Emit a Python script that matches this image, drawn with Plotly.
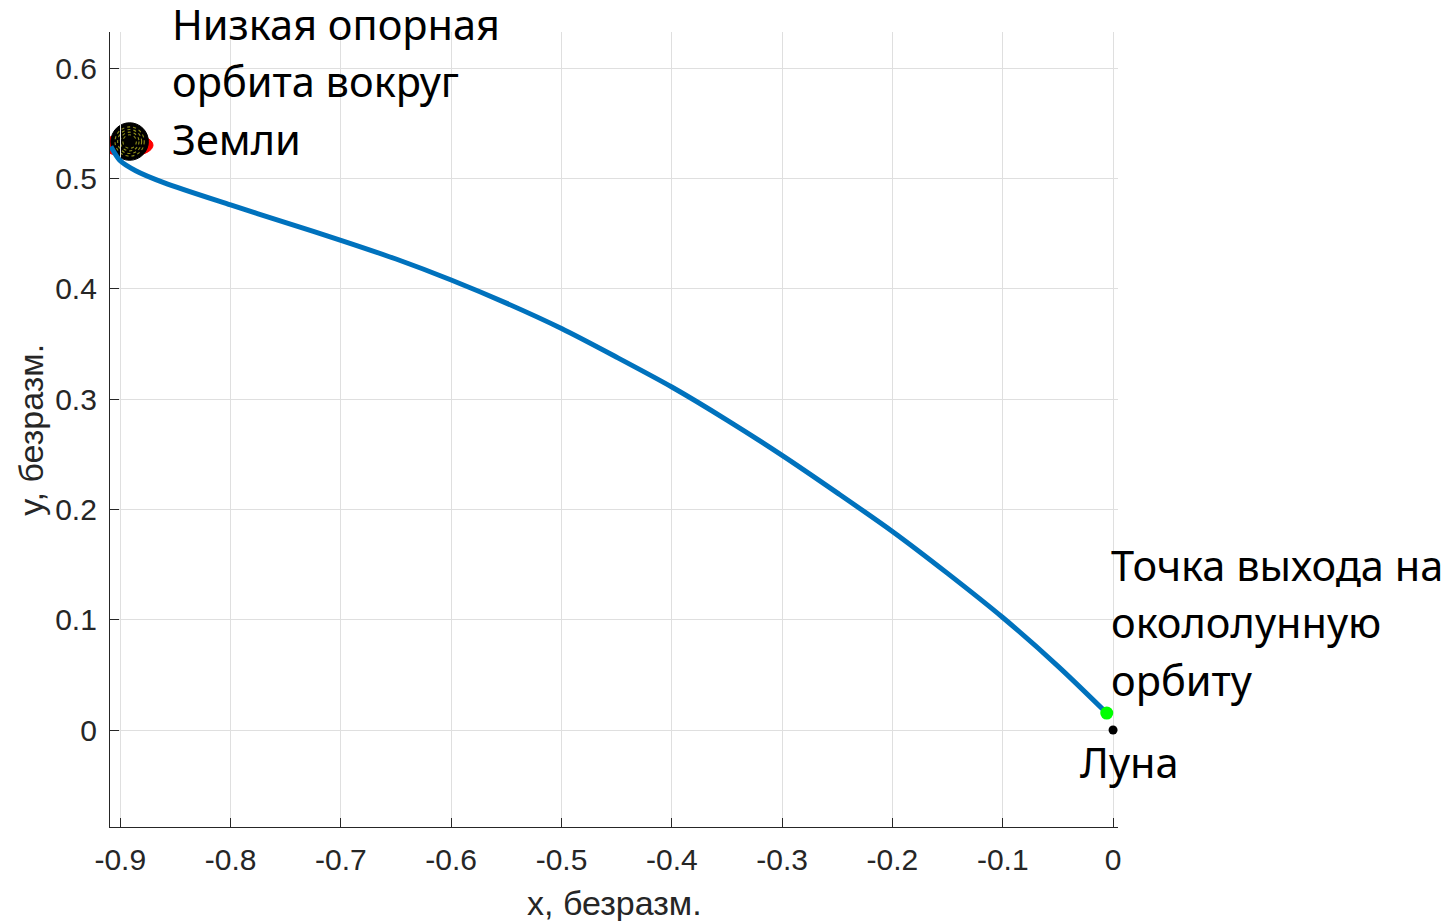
import plotly.graph_objects as go

# Transfer trajectory (dimensionless, Moon-centred frame)
traj_x = [-0.9085, -0.9005, -0.886, -0.86, -0.80, -0.75, -0.70, -0.65,
          -0.60, -0.55, -0.50, -0.45, -0.40, -0.35, -0.30, -0.25, -0.20,
          -0.15, -0.10, -0.05, -0.0057]
traj_y = [0.529, 0.5165, 0.507, 0.496, 0.476, 0.460, 0.444, 0.427,
          0.408, 0.387, 0.364, 0.338, 0.311, 0.281, 0.249, 0.215, 0.180,
          0.142, 0.102, 0.058, 0.0154]

# Bodies and key points
earth_center = (-0.8915, 0.5335)
earth_radius = 0.0170
leo_center = (-0.8935, 0.5302)
leo_semi = (0.0232, 0.0102)
exit_point = (-0.0057, 0.0154)
moon_point = (0.0, 0.0)

# Axis ranges and ticks
x_range = [-0.9093, 0.0045]
y_range = [-0.0879, 0.6328]
x_ticks = [-0.9, -0.8, -0.7, -0.6, -0.5, -0.4, -0.3, -0.2, -0.1, 0.0]
x_tick_text = ["-0.9", "-0.8", "-0.7", "-0.6", "-0.5", "-0.4", "-0.3", "-0.2", "-0.1", "0"]
y_ticks = [0.0, 0.1, 0.2, 0.3, 0.4, 0.5, 0.6]
y_tick_text = ["0", "0.1", "0.2", "0.3", "0.4", "0.5", "0.6"]

# Texts
x_title = "x, безразм."
y_title = "y, безразм."
leo_lines = ["Низкая опорная", "орбита вокруг", "Земли"]
exit_lines = ["Точка выхода на", "окололунную", "орбиту"]
moon_label = "Луна"

AX = "#262626"
GRID = "#dfdfdf"
SANS = "Liberation Sans, Arial, sans-serif"
TICK_FONT = dict(family=SANS, size=30, color=AX)
TITLE_FONT = dict(family=SANS, size=34, color=AX)
NOTE_FONT = dict(family="Noto Sans, sans-serif", size=41.5, color="black")


def to_paper_y(y):
    return (y - y_range[0]) / (y_range[1] - y_range[0])


fig = go.Figure()

fig.add_trace(go.Scatter(
    x=traj_x, y=traj_y, mode="lines",
    line=dict(color="#0072BD", width=5, shape="spline", smoothing=0.8),
    hoverinfo="skip", showlegend=False))

fig.add_trace(go.Scatter(
    x=[exit_point[0]], y=[exit_point[1]], mode="markers",
    marker=dict(color="#00ff00", size=13, line=dict(width=0)),
    showlegend=False))

fig.add_trace(go.Scatter(
    x=[moon_point[0]], y=[moon_point[1]], mode="markers",
    marker=dict(color="black", size=9, line=dict(width=0)),
    showlegend=False))

shapes = []
# Low Earth orbit (seen nearly edge-on as a flattened ellipse)
shapes.append(dict(
    type="circle", xref="x", yref="y", layer="below",
    x0=leo_center[0] - leo_semi[0], x1=leo_center[0] + leo_semi[0],
    y0=leo_center[1] - leo_semi[1], y1=leo_center[1] + leo_semi[1],
    fillcolor="red", line=dict(color="red", width=1)))
# Earth disc
shapes.append(dict(
    type="circle", xref="x", yref="y", layer="below",
    x0=earth_center[0] - earth_radius, x1=earth_center[0] + earth_radius,
    y0=earth_center[1] - earth_radius, y1=earth_center[1] + earth_radius,
    fillcolor="black", line=dict(color="black", width=1)))
# Dotted texture rings on the Earth disc
for k in [0.36, 0.50, 0.64, 0.78]:
    r = earth_radius * k
    shapes.append(dict(
        type="circle", xref="x", yref="y", layer="below",
        x0=earth_center[0] - r, x1=earth_center[0] + r,
        y0=earth_center[1] - r, y1=earth_center[1] + r,
        line=dict(color="#8f8f1a", width=1.1, dash="dot")))

annotations = []
line_step = 0.0521
for i, txt in enumerate(leo_lines):
    annotations.append(dict(
        x=-0.855, y=to_paper_y(0.5360 + (2 - i) * line_step),
        xref="x", yref="paper",
        text=txt, showarrow=False, xanchor="left", yanchor="middle",
        font=NOTE_FONT))
for i, txt in enumerate(exit_lines):
    annotations.append(dict(
        x=-0.004, y=to_paper_y(0.0975 + (1 - i) * line_step),
        xref="x", yref="paper",
        text=txt, showarrow=False, xanchor="left", yanchor="middle",
        font=NOTE_FONT))
annotations.append(dict(
    x=-0.032, y=to_paper_y(-0.0286), xref="x", yref="paper", text=moon_label,
    showarrow=False, xanchor="left", yanchor="middle", font=NOTE_FONT))

# Axis titles
annotations.append(dict(
    x=0.5, y=-0.095, xref="paper", yref="paper", text=x_title,
    showarrow=False, xanchor="center", yanchor="middle", font=TITLE_FONT))
annotations.append(dict(
    x=-0.079, y=0.5, xref="paper", yref="paper", text=y_title,
    showarrow=False, xanchor="center", yanchor="middle", textangle=-90,
    font=TITLE_FONT))

fig.update_layout(
    width=1453, height=921,
    margin=dict(l=110, r=335, t=32, b=94),
    paper_bgcolor="white", plot_bgcolor="white",
    shapes=shapes, annotations=annotations,
    showlegend=False,
    xaxis=dict(
        range=x_range, tickvals=x_ticks, ticktext=x_tick_text,
        showgrid=True, gridcolor=GRID, gridwidth=1, zeroline=False,
        showline=True, linecolor=AX, linewidth=1.3, mirror=False,
        ticks="inside", ticklen=9, tickcolor=AX, tickwidth=1.3,
        tickfont=TICK_FONT, ticklabelstandoff=6, automargin=False),
    yaxis=dict(
        range=y_range, tickvals=y_ticks, ticktext=y_tick_text,
        showgrid=True, gridcolor=GRID, gridwidth=1, zeroline=False,
        showline=True, linecolor=AX, linewidth=1.3, mirror=False,
        ticks="inside", ticklen=9, tickcolor=AX, tickwidth=1.3,
        tickfont=TICK_FONT, ticklabelstandoff=6, automargin=False),
)

fig.write_html("out.html")
